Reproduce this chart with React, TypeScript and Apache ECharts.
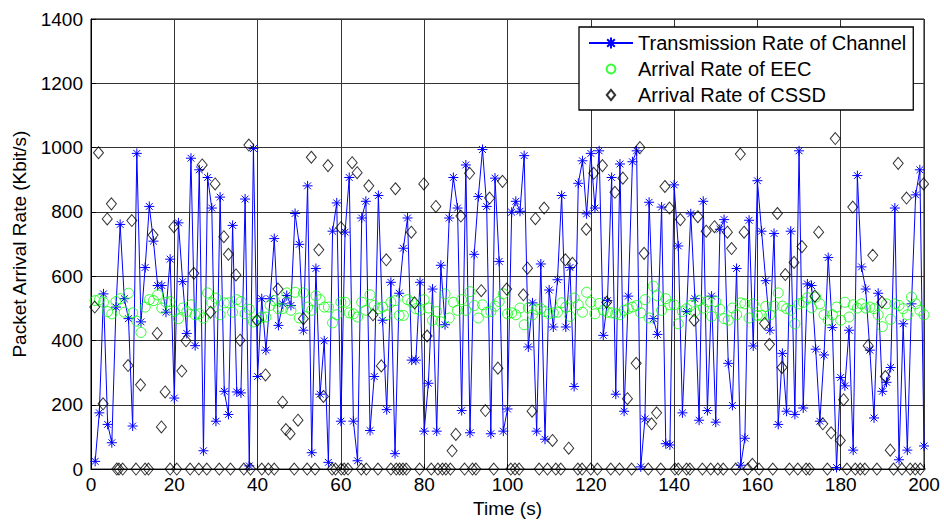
import React, { useEffect, useRef } from "react";
import * as echarts from "echarts";

// Transmission rate of channel, one sample per second (t = 1..200)
const channelRate = [
  24, 175, 545, 139, 82, 504, 761, 530, 468, 134, 982, 458, 627, 817, 709, 571, 571, 488, 653, 221,
  766, 583, 422, 967, 384, 931, 57, 907, 812, 149, 846, 242, 170, 758, 240, 237, 840, 10, 997, 288,
  530, 370, 530, 717, 447, 514, 540, 509, 795, 699, 432, 881, 51, 624, 233, 399, 21, 740, 828, 149,
  737, 907, 149, 26, 781, 833, 120, 288, 851, 463, 185, 581, 48, 547, 687, 781, 339, 339, 581, 118,
  267, 560, 118, 634, 449, 781, 907, 812, 182, 946, 113, 668, 848, 994, 817, 110, 905, 646, 118, 187,
  799, 833, 802, 975, 380, 517, 118, 638, 93, 557, 442, 589, 851, 442, 627, 257, 889, 959, 794, 982,
  812, 990, 416, 524, 907, 233, 949, 180, 538, 956, 990, 7, 156, 830, 468, 419, 815, 79, 75, 884,
  694, 175, 490, 794, 530, 152, 833, 182, 538, 146, 746, 776, 329, 198, 624, 12, 96, 774, 383, 897,
  740, 586, 432, 733, 139, 360, 180, 740, 170, 990, 190, 576, 571, 373, 149, 355, 658, 440, 5, 285,
  259, 432, 59, 913, 629, 560, 370, 159, 547, 242, 270, 316, 812, 29, 452, 59, 514, 853, 931, 72,
];

// Arrival rate of EEC, one sample per second (t = 1..200)
const eecRate = [
  524, 527, 519, 490, 483, 521, 530, 488, 547, 486, 460, 425, 504, 527, 524, 542, 501, 519, 521, 490,
  468, 501, 490, 511, 480, 483, 470, 548, 517, 532, 480, 517, 517, 488, 527, 521, 483, 497, 458, 463,
  473, 473, 509, 524, 499, 499, 548, 494, 550, 470, 548, 504, 494, 539, 527, 504, 504, 455, 480, 519,
  519, 486, 483, 473, 519, 494, 542, 509, 499, 504, 480, 519, 524, 478, 478, 527, 519, 499, 494, 527,
  501, 463, 490, 458, 545, 470, 519, 494, 527, 494, 552, 509, 470, 511, 488, 490, 507, 521, 545, 483,
  486, 480, 501, 449, 501, 480, 497, 499, 490, 483, 486, 488, 517, 504, 475, 532, 511, 488, 550, 519,
  483, 515, 494, 488, 486, 483, 480, 494, 499, 504, 509, 486, 527, 470, 569, 539, 494, 530, 511, 511,
  452, 490, 499, 509, 490, 524, 501, 521, 475, 521, 497, 468, 463, 501, 480, 517, 514, 470, 514, 478,
  478, 506, 480, 507, 548, 507, 499, 494, 452, 514, 519, 533, 502, 535, 514, 480, 463, 480, 504, 463,
  519, 473, 511, 501, 514, 501, 504, 499, 480, 443, 514, 466, 514, 509, 499, 480, 535, 514, 494, 480,
];

// Arrival rate of CSSD: arrival times (s) and rates
const cssdTime = [
  0.9, 1.8, 2.9, 3.9, 4.9, 6.2, 6.7, 7.6, 8.9, 9.8,
  10.8, 11.9, 13.0, 13.8, 14.9, 15.9, 16.9, 17.8, 19.0, 19.9,
  20.6, 21.8, 22.8, 23.8, 24.7, 25.9, 26.7, 27.8, 28.7, 29.8,
  30.8, 31.9, 33.0, 33.5, 34.8, 35.8, 36.7, 37.9, 38.3, 39.9,
  41.0, 41.9, 42.6, 44.0, 44.9, 46.0, 46.8, 47.8, 48.8, 49.7,
  51.0, 51.9, 52.9, 53.8, 54.7, 55.8, 56.9, 57.9, 58.7, 60.0,
  60.1, 60.8, 61.7, 62.7, 63.9, 64.9, 66.1, 66.7, 67.7, 68.9,
  69.7, 70.9, 72.0, 73.1, 73.3, 74.1, 74.9, 75.7, 76.9, 77.7,
  78.9, 79.9, 80.7, 81.7, 82.8, 83.3, 84.4, 85.2, 86.3, 86.7,
  87.6, 88.8, 89.7, 90.9, 91.6, 92.4, 93.7, 94.7, 95.7, 96.7,
  97.7, 98.8, 99.8, 100.8, 101.8, 102.8, 103.8, 104.8, 105.9, 106.7,
  107.6, 108.8, 109.6, 110.8, 111.6, 112.8, 113.9, 114.7, 115.6, 116.9,
  117.9, 118.9, 120.0, 120.7, 121.6, 122.8, 123.8, 124.8, 125.8, 126.9,
  127.7, 128.8, 129.8, 130.9, 131.8, 132.8, 133.8, 134.6, 135.8, 136.8,
  137.8, 138.9, 140.2, 141.0, 141.5, 143.0, 143.8, 144.8, 145.7, 146.8,
  147.7, 148.8, 149.7, 150.5, 151.8, 152.8, 153.8, 154.8, 155.9, 156.8,
  157.7, 158.8, 160.4, 161.7, 162.9, 163.7, 164.8, 165.9, 166.7, 167.7,
  168.8, 169.7, 170.7, 171.7, 172.5, 173.8, 174.7, 175.7, 176.8, 177.7,
  178.7, 179.9, 180.7, 181.5, 182.9, 183.5, 184.7, 185.8, 186.6, 187.7,
  188.7, 189.9, 190.7, 191.9, 192.7, 193.8, 194.7, 195.8, 196.7, 197.9,
  199.1, 199.9,
];
const cssdRate = [
  504, 984, 203, 778, 825, 0, 0, 0, 322, 773,
  0, 262, 0, 0, 728, 422, 131, 240, 0, 754,
  0, 305, 399, 0, 609, 0, 946, 0, 488, 887,
  0, 723, 668, 0, 604, 401, 0, 1008, 0, 463,
  0, 293, 0, 0, 560, 208, 123, 110, 0, 152,
  468, 0, 970, 0, 682, 226, 944, 0, 0, 751,
  0, 0, 0, 953, 922, 0, 0, 881, 480, 0,
  321, 651, 0, 872, 0, 0, 0, 0, 737, 517,
  0, 887, 414, 0, 817, 0, 0, 0, 0, 57,
  108, 787, 0, 920, 0, 0, 555, 182, 843, 0,
  314, 895, 560, 0, 0, 0, 542, 625, 180, 779,
  0, 812, 0, 89, 0, 0, 651, 65, 640, 0,
  0, 746, 0, 920, 0, 944, 519, 0, 861, 0,
  905, 219, 0, 329, 1000, 671, 0, 141, 175, 0,
  879, 812, 0, 0, 776, 0, 0, 463, 785, 0,
  740, 0, 754, 0, 0, 737, 686, 0, 980, 737,
  0, 15, 0, 453, 388, 0, 795, 316, 605, 0,
  643, 0, 692, 0, 0, 538, 737, 141, 0, 113,
  1028, 89, 216, 0, 815, 0, 0, 0, 384, 665,
  0, 519, 288, 59, 0, 951, 0, 843, 0, 0,
  0, 887,
];

const seriesNames = [
  "Transmission Rate of Channel",
  "Arrival Rate of EEC",
  "Arrival Rate of CSSD",
];

const FONT = "'Liberation Sans', Arial, sans-serif";
const STAR = "path://M5,0L5,10M0,5L10,5M1.6,1.6L8.4,8.4M1.6,8.4L8.4,1.6";
// legend icons: invisible moves fix the 44x14 box so the marks keep their real size
const LEG_CIRCLE = "path://M0,0M44,14M17.6,7A4.4,4.4 0 1 1 26.4,7A4.4,4.4 0 1 1 17.6,7Z";
const LEG_DIAMOND = "path://M0,0M44,14M17.8,7L22,1.8L26.2,7L22,12.2Z";

export default function App() {
  const ref = useRef<HTMLDivElement>(null);
  useEffect(() => {
    if (!ref.current) return;
    const chart = echarts.init(ref.current, null, { renderer: "svg" });
    const chData = channelRate.map((v, i) => [i + 1, v]);
    const eecData = eecRate.map((v, i) => [i + 1, v]);
    const cssdData = cssdTime.map((t, i) => [t, cssdRate[i]]);
    const gridLine = { show: true, lineStyle: { color: "#333", type: "solid", width: 1 } };
    chart.setOption({
      animation: false,
      backgroundColor: "#fff",
      textStyle: { fontFamily: FONT },
      grid: {
        left: 91,
        right: 20,
        top: 19,
        bottom: 51,
        show: true,
        borderColor: "#000",
        borderWidth: 1,
        backgroundColor: "transparent",
      },
      xAxis: {
        type: "value",
        min: 0,
        max: 200,
        interval: 20,
        name: "Time (s)",
        nameLocation: "middle",
        nameGap: 26,
        nameTextStyle: { fontSize: 19, color: "#000", fontFamily: FONT },
        axisLine: { show: true, lineStyle: { color: "#000", width: 1 } },
        axisTick: { show: true, inside: true, length: 5, lineStyle: { color: "#000" } },
        axisLabel: {
          fontSize: 19,
          color: "#000",
          fontFamily: FONT,
          margin: 6,
          formatter: (v: number) => String(v),
        },
        splitLine: gridLine,
      },
      yAxis: {
        type: "value",
        min: 0,
        max: 1400,
        interval: 200,
        name: "Packet Arrival Rate (Kbit/s)",
        nameLocation: "middle",
        nameGap: 62,
        nameTextStyle: { fontSize: 19, color: "#000", fontFamily: FONT },
        axisLine: { show: true, lineStyle: { color: "#000", width: 1 } },
        axisTick: { show: true, inside: true, length: 5, lineStyle: { color: "#000" } },
        axisLabel: {
          fontSize: 19,
          color: "#000",
          fontFamily: FONT,
          margin: 8,
          formatter: (v: number) => String(v),
        },
        splitLine: gridLine,
      },
      legend: {
        orient: "vertical",
        left: 579,
        top: 27,
        data: [
          { name: seriesNames[0] },
          { name: seriesNames[1], icon: LEG_CIRCLE },
          { name: seriesNames[2], icon: LEG_DIAMOND },
        ],
        backgroundColor: "#fff",
        borderColor: "#000",
        borderWidth: 1.3,
        padding: [6, 7, 5, 9],
        itemWidth: 44,
        itemHeight: 14,
        itemGap: 6,
        textStyle: { fontSize: 20, color: "#000", fontFamily: FONT, lineHeight: 20 },
      },
      series: [
        {
          name: seriesNames[0],
          type: "line",
          data: chData,
          symbol: STAR,
          symbolSize: 10,
          showAllSymbol: true,
          lineStyle: { color: "#0000ff", width: 1 },
          itemStyle: { color: "#0000ff", borderColor: "#0000ff", borderWidth: 1 },
          z: 2,
        },
        {
          name: seriesNames[1],
          type: "scatter",
          data: eecData,
          symbol: "circle",
          symbolSize: 10,
          itemStyle: { color: "transparent", borderColor: "#00ff00", borderWidth: 1 },
          z: 3,
        },
        {
          name: seriesNames[2],
          type: "scatter",
          data: cssdData,
          symbol: "diamond",
          symbolSize: [10, 12],
          itemStyle: { color: "transparent", borderColor: "#000", borderWidth: 1 },
          z: 4,
        },
      ],
    });
    return () => chart.dispose();
  }, []);
  return (
    <div
      ref={ref}
      style={{ position: "fixed", left: 0, top: 0, width: 944, height: 523, background: "#fff" }}
    />
  );
}
